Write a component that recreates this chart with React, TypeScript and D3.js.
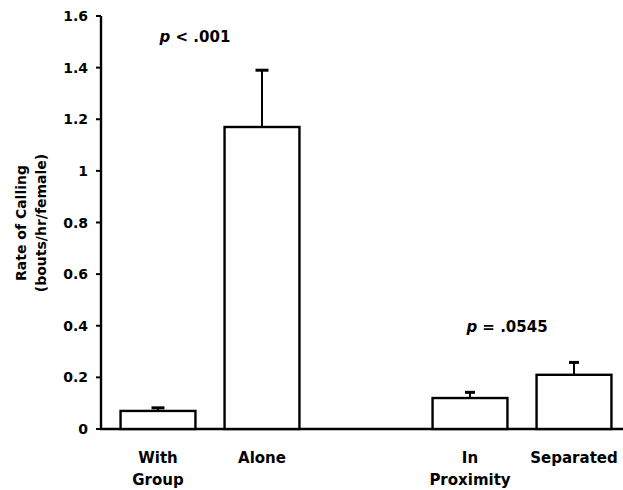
import React, { useRef, useEffect } from 'react';
import * as d3 from 'd3';

// chart values
const categories = ['With\nGroup', 'Alone', '', 'In\nProximity', 'Separated'];
const barCategories = ['With\nGroup', 'Alone', 'In\nProximity', 'Separated'];
const means = [0.07, 1.17, 0.12, 0.21];
const errors = [0.012, 0.22, 0.022, 0.048];
const tickValues = [0, 0.2, 0.4, 0.6, 0.8, 1, 1.2, 1.4, 1.6];
const tickLabels = ['0', '0.2', '0.4', '0.6', '0.8', '1', '1.2', '1.4', '1.6'];
const annotations = [
  { p: ' < .001', value: 1.5, group: ['With\nGroup', 'Alone'] },
  { p: ' = .0545', value: 0.376, group: ['In\nProximity', 'Separated'] }
];

const App: React.FC = () => {
  const svgRef = useRef<SVGSVGElement>(null);

  useEffect(() => {
    if (!svgRef.current) return;
    d3.select(svgRef.current).selectAll('*').remove();

    const width = 623;
    const height = 490;
    const font = '"DejaVu Sans", Arial, sans-serif';

    const svg = d3.select(svgRef.current)
      .attr('width', width)
      .attr('height', height);

    const axisX = 101;
    const yScale = d3.scaleLinear().domain([0, 1.6]).range([429, 16]);
    const xScale = d3.scaleBand()
      .domain(categories)
      .range([106, 626])
      .paddingInner(0.28)
      .paddingOuter(0.14);

    // axes
    svg.append('line')
      .attr('x1', axisX).attr('x2', axisX)
      .attr('y1', yScale(1.6)).attr('y2', yScale(0) + 1)
      .attr('stroke', '#000').attr('stroke-width', 2.4);
    svg.append('line')
      .attr('x1', axisX - 1).attr('x2', width)
      .attr('y1', yScale(0)).attr('y2', yScale(0))
      .attr('stroke', '#000').attr('stroke-width', 2.4);

    const ticks = svg.append('g');
    tickValues.forEach((v, i) => {
      ticks.append('line')
        .attr('x1', axisX - 5).attr('x2', axisX)
        .attr('y1', yScale(v)).attr('y2', yScale(v))
        .attr('stroke', '#000').attr('stroke-width', 2);
      ticks.append('text')
        .attr('x', 88)
        .attr('y', yScale(v))
        .attr('dy', '0.36em')
        .attr('text-anchor', 'end')
        .attr('font-family', font)
        .attr('font-weight', 'bold')
        .attr('font-size', 14)
        .text(tickLabels[i]);
    });

    // y label
    const yLabel = svg.append('text')
      .attr('transform', 'translate(26,223) rotate(-90)')
      .attr('text-anchor', 'middle')
      .attr('font-family', font)
      .attr('font-weight', 'bold')
      .attr('font-size', 14);
    yLabel.append('tspan').attr('x', 0).attr('y', 0).text('Rate of Calling');
    yLabel.append('tspan').attr('x', 0).attr('y', 20).text('(bouts/hr/female)');

    // bars
    barCategories.forEach((c, i) => {
      const x0 = xScale(c)!;
      const bw = xScale.bandwidth();
      const cx = x0 + bw / 2;
      const top = yScale(means[i]);
      const errTop = yScale(means[i] + errors[i]);
      const cap = i === 0 || i === 1 ? 13 : 10;

      svg.append('line')
        .attr('x1', cx).attr('x2', cx)
        .attr('y1', top).attr('y2', errTop)
        .attr('stroke', '#000').attr('stroke-width', 2);
      svg.append('line')
        .attr('x1', cx - cap / 2).attr('x2', cx + cap / 2)
        .attr('y1', errTop).attr('y2', errTop)
        .attr('stroke', '#000').attr('stroke-width', 3);
      svg.append('rect')
        .attr('x', x0).attr('y', top)
        .attr('width', bw).attr('height', yScale(0) - top)
        .attr('fill', '#fff')
        .attr('stroke', '#000')
        .attr('stroke-width', 2.4);

      const lines = c.split('\n');
      const label = svg.append('text')
        .attr('text-anchor', 'middle')
        .attr('font-family', font)
        .attr('font-weight', 'bold')
        .attr('font-size', 15);
      lines.forEach((l, j) => {
        label.append('tspan').attr('x', cx).attr('y', 463 + j * 22).text(l);
      });
    });

    // p-value annotations
    annotations.forEach(a => {
      const a0 = xScale(a.group[0])!;
      const a1 = xScale(a.group[1])! + xScale.bandwidth();
      const cx = (a0 + a1) / 2 - 15;
      const t = svg.append('text')
        .attr('x', cx)
        .attr('y', yScale(a.value))
        .attr('text-anchor', 'middle')
        .attr('font-family', font)
        .attr('font-weight', 'bold')
        .attr('font-size', 15);
      t.append('tspan').attr('font-style', 'italic').text('p');
      t.append('tspan').attr('xml:space', 'preserve').text(a.p);
    });
  }, []);

  return <svg ref={svgRef} style={{ position: 'absolute', left: 0, top: 0, background: '#fff' }}></svg>;
};

export default App;
